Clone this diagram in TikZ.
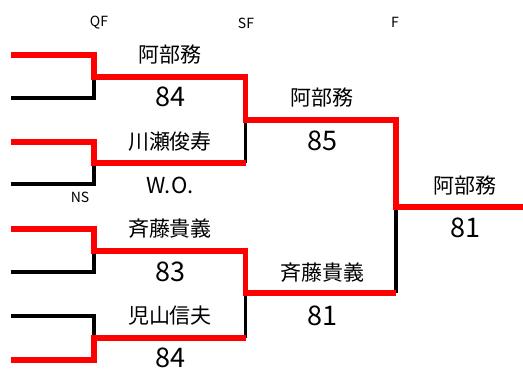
\documentclass[tikz,border=0pt]{standalone}
\usepackage{fontspec}
\setmainfont{Noto Sans CJK JP}
\begin{document}
\begin{tikzpicture}[x=1pt,y=-1pt,
  win/.style={draw=red, line width=5.5pt, line join=miter},
  lose/.style={draw=black, line width=3.2pt},
  pname/.style={font=\fontsize{21}{24}\selectfont, inner sep=0pt},
  pscore/.style={font=\fontsize{27}{30}\selectfont, inner sep=0pt},
  wo/.style={font=\fontsize{22}{24}\selectfont, inner sep=0pt},
  lbl/.style={font=\fontsize{14}{16}\selectfont, inner sep=0pt}]
\useasboundingbox (0,0) rectangle (523,370);
% entry points
\foreach \n/\y in {e1/55,e2/98,e3/142,e4/184,e5/229,e6/272,e7/316,e8/360}
  \coordinate (\n) at (11,\y);
\foreach \n/\y in {c1/55,c2/98,c3/142,c4/184,c5/229,c6/272,c7/316,c8/360}
  \coordinate (\n) at (94,\y);
% QF results
\coordinate (q1) at (94,77);  \coordinate (q1r) at (245.5,77);
\coordinate (q2) at (94,163); \coordinate (q2r) at (245.5,163);
\coordinate (q3) at (94,251); \coordinate (q3r) at (245.5,251);
\coordinate (q4) at (94,338); \coordinate (q4r) at (245.5,338);
% SF results
\coordinate (s1) at (245.5,120); \coordinate (s1r) at (396,120);
\coordinate (s2) at (245.5,293); \coordinate (s2r) at (396,293);
% F result
\coordinate (f1) at (396,207); \coordinate (f1r) at (523,207);
% losing lines
\draw[lose] (e2) -- (c2) -- (q1);
\draw[lose] (e4) -- (c4) -- (q2);
\draw[lose] (e6) -- (c6) -- (q3);
\draw[lose] (e7) -- (c7) -- (q4);
\draw[lose] (q2r) -- (s1);
\draw[lose] (q4r) -- (s2);
\draw[lose] (s2r) -- (f1);
% winning lines
\draw[win] (e1) -- (c1) -- (q1) -- (q1r) -- (s1) -- (s1r) -- (f1) -- (f1r);
\draw[win] (e3) -- (c3) -- (q2) -- (q2r);
\draw[win] (e5) -- (c5) -- (q3) -- (q3r) -- (s2) -- (s2r);
\draw[win] (e8) -- (c8) -- (q4) -- (q4r);
% round labels
\node[lbl] (lqf) at (99,23) {QF};
\node[lbl] (lsf) at (246,23) {SF};
\node[lbl] (lf) at (395,22) {F};
\node[lbl] (lns) at (80,197) {NS};
% names and scores
\node[pname] (n1) at (170,55) {阿部務};
\node[pscore] (r1) at (170,97) {84};
\node[pname] (n2) at (170,142) {川瀬俊寿};
\node[wo] (r2) at (170,185) {W.O.};
\node[pname] (n3) at (170,229) {斉藤貴義};
\node[pscore] (r3) at (170,272) {83};
\node[pname] (n4) at (170,316) {児山信夫};
\node[pscore] (r4) at (170,358) {84};
\node[pname] (n5) at (322,98) {阿部務};
\node[pscore] (r5) at (322,141) {85};
\node[pname] (n6) at (322,273) {斉藤貴義};
\node[pscore] (r6) at (322,316) {81};
\node[pname] (n7) at (465,186) {阿部務};
\node[pscore] (r7) at (465,228) {81};
\end{tikzpicture}
\end{document}
